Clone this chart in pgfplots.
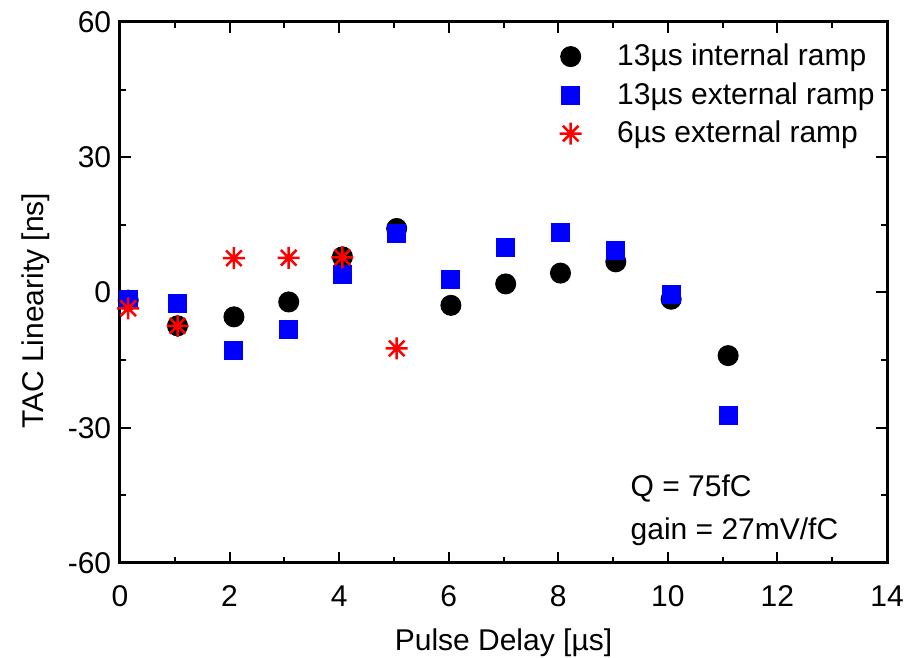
\documentclass[border=0pt]{standalone}
\usepackage{pgfplots}
\pgfplotsset{compat=1.18}
\usepackage{fontspec}
\setmainfont{Liberation Sans}
\pgfdeclareplotmark{ast8}{%
  \pgfpathmoveto{\pgfqpoint{0pt}{\pgfplotmarksize}}%
  \pgfpathlineto{\pgfqpoint{0pt}{-\pgfplotmarksize}}%
  \pgfpathmoveto{\pgfqpoint{\pgfplotmarksize}{0pt}}%
  \pgfpathlineto{\pgfqpoint{-\pgfplotmarksize}{0pt}}%
  \pgfpathmoveto{\pgfqpoint{0.7071\pgfplotmarksize}{0.7071\pgfplotmarksize}}%
  \pgfpathlineto{\pgfqpoint{-0.7071\pgfplotmarksize}{-0.7071\pgfplotmarksize}}%
  \pgfpathmoveto{\pgfqpoint{-0.7071\pgfplotmarksize}{0.7071\pgfplotmarksize}}%
  \pgfpathlineto{\pgfqpoint{0.7071\pgfplotmarksize}{-0.7071\pgfplotmarksize}}%
  \pgfusepathqstroke}
\begin{document}
\begin{tikzpicture}
\begin{axis}[
  name=ax,
  scale only axis,
  width=306.8pt, height=216.4pt,
  xmin=0, xmax=14, ymin=-60, ymax=60,
  xtick={0,2,...,14}, ytick={-60,-30,0,30,60},
  minor xtick={1,3,...,13}, minor ytick={-45,-15,15,45},
  tick align=inside,
  major tick length=4.4pt, minor tick length=2.4pt,
  every tick/.style={black, line width=0.8pt},
  axis line style={line width=1.2pt},
  /pgf/number format/assume math mode=true,
  ticklabel style={font=\fontsize{12}{14}\selectfont},
  xticklabel style={yshift=-5.5pt},
  label style={font=\fontsize{12}{14}\selectfont},
  xlabel={Pulse Delay [µs]},
  ylabel={TAC Linearity [ns]},
  xlabel style={at={(axis description cs:0.5,-0.148)}, anchor=center},
  ylabel style={at={(axis description cs:-0.1095,0.466)}, anchor=center},
  legend style={draw=none, fill=none, font=\fontsize{12}{14}\selectfont,
    at={(axis description cs:0.5625,0.979)}, anchor=north west,
    row sep=1.2pt},
  legend image code/.code={\path[draw=none] (-4.5pt,0pt) -- (16.6pt,0pt); \draw[#1] plot coordinates {(0pt,0pt)};},
  legend cell align=left,
  clip=false,
]
\addplot[only marks, mark=*, mark size=4pt, black] coordinates {
(0.15,-1.7) (1.05,-7.4) (2.08,-5.4) (3.08,-2.1) (4.06,7.9) (5.05,14.2)
(6.04,-2.85) (7.04,1.9) (8.04,4.3) (9.05,6.8) (10.06,-1.5) (11.1,-14.0)};
\addlegendentry{13µs internal ramp}
\addplot[only marks, mark=square*, mark size=3.6pt, blue, mark options={draw=none, fill=blue}] coordinates {
(0.15,-1.45) (1.05,-2.4) (2.08,-12.8) (3.08,-8.3) (4.06,3.95) (5.05,13.1)
(6.04,2.8) (7.04,9.9) (8.04,13.3) (9.05,9.3) (10.06,-0.5) (11.1,-27.2)};
\addlegendentry{13µs external ramp}
\addplot[only marks, mark=ast8, mark size=4.4pt, red, mark options={line width=1pt}] coordinates {
(0.15,-3.5) (1.05,-7.4) (2.08,7.6) (3.08,7.7) (4.06,7.8) (5.05,-12.4)};
\addlegendentry{6µs external ramp}
\node[anchor=west, align=left, font=\fontsize{12}{17.5}\selectfont] at (axis cs:9.16,-48.3) {Q = 75fC\\gain = 27mV/fC};
\end{axis}
\pgfresetboundingbox
\path ([shift={(-48pt,-38pt)}]ax.south west) rectangle ([shift={(9.2pt,8.8pt)}]ax.north east);
\end{tikzpicture}
\end{document}
